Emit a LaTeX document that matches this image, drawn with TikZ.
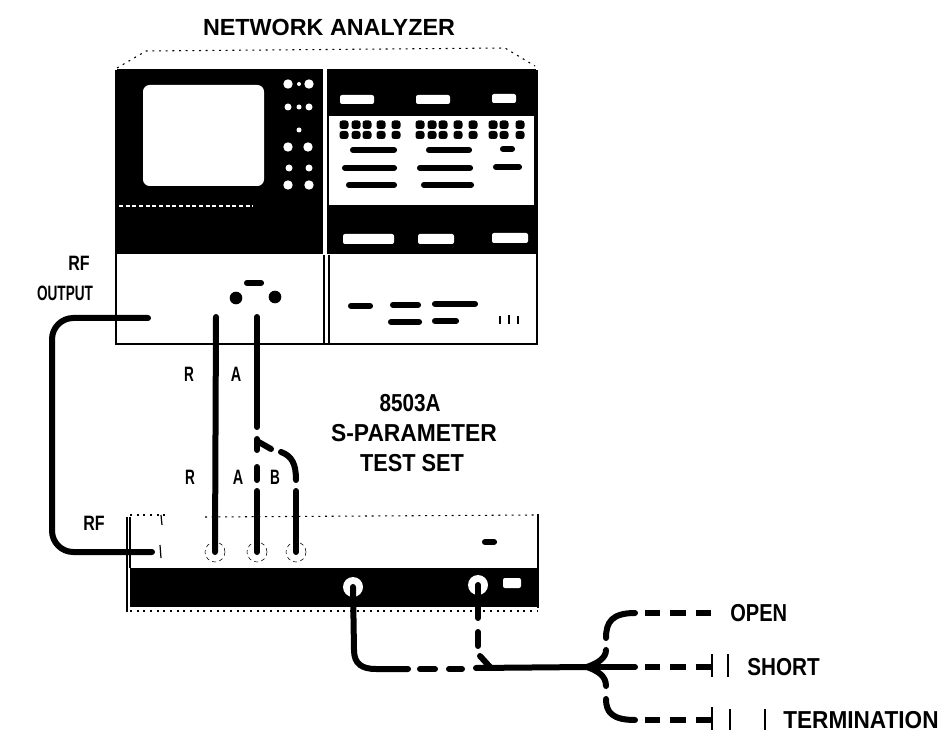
\documentclass[tikz,border=0pt]{standalone}
\usepackage{fontspec}
\setmainfont{Liberation Sans}
\usepackage{xcolor}
\usepackage{tikz}
\usetikzlibrary{positioning,calc}

\tikzset{
	cable/.style={line width=4.5pt, line cap=round, black},
	dashcable/.style={line width=4pt, dash pattern=on 11.5pt off 7.5pt, black},
	panel/.style={fill=black, draw=none},
	slot/.style={fill=white, rounded corners=1.5pt},
	key/.style={fill=black, rounded corners=2pt},
	bar/.style={line width=4.6pt, line cap=round, black},
	edgeline/.style={line width=0.9pt, black},
	faint/.style={line width=0.8pt, dash pattern=on 1.5pt off 3.5pt, black},
	label/.style={font=\bfseries\fontsize{12}{14}\selectfont, inner sep=0pt},
	biglabel/.style={font=\bfseries\fontsize{16}{18}\selectfont, inner sep=0pt},
	hole/.style={circle, fill=black, minimum size=#1, inner sep=0pt},
	socket/.style={circle, fill=white, minimum size=15pt, inner sep=0pt},
	minorport/.style={circle, draw, dash pattern=on 3pt off 2.5pt, minimum size=15pt, inner sep=0pt}
}

\begin{document}
\begin{tikzpicture}[x=0.75pt, y=-0.75pt]
	\useasboundingbox (0,0) rectangle (946,734);

	% network analyzer cabinet
	\draw[faint] (117,68) -- (146,51) -- (505,48) -- (535,66);
	\draw[edgeline] (116,70) -- (116,344) -- (537,344) -- (537,70);
	\draw[edgeline] (324,255) -- (324,344);
	\draw[edgeline] (329,255) -- (329,344);
	\fill[panel] (117,69) rectangle (323,254);
	\fill[panel] (327,69) rectangle (536,116);
	\fill[panel] (327,205) rectangle (536,254);
	\draw[edgeline] (328,116) -- (328,205);
	\draw[edgeline] (535,116) -- (535,205);
	\draw[white, line width=0.8pt, dash pattern=on 3pt off 2pt] (119,206) -- (253,206);

	% screen and round knobs
	\fill[white, rounded corners=5pt] (143,85) rectangle (264,186);
	\foreach \kx/\ky/\kr in {288/84/4.7, 299/84/2, 309/84/4.7, 288/107/3.5, 299/107/2.5, 309/107/3.5,
		299/130/2.5, 288/147/4.7, 308/147/4.7, 289/168/3.5, 309/168/3.5, 288/185/4.7, 309/185/4.7}
		\fill[white] (\kx,\ky) circle (\kr*0.75pt);

	% white windows in the dark strips
	\fill[slot] (340,95) rectangle (374,104);
	\fill[slot] (416,95) rectangle (450,104);
	\fill[slot] (492,94) rectangle (516,103);
	\fill[slot] (343,234) rectangle (394,244);
	\fill[slot] (418,234) rectangle (454,244);
	\fill[slot] (492,233) rectangle (528,243);

	% push buttons
	\foreach \bx in {344,356,367,381,396,420,432,443,458,473,493,504,520} {
		\fill[key] (\bx-4.5,120.5) rectangle (\bx+4.5,129);
		\fill[key] (\bx-4.5,131) rectangle (\bx+4.5,139);
	}

	% bars on the panels
	\foreach \xa/\xb/\yy in {353/394/150, 429/469/150, 503/512/149, 345/394/168, 420/470/168, 496/519/167,
		349/394/185, 424/471/185, 351/370/306, 393/418/305, 435/475/304, 391/419/322, 435/456/321, 247/261/283}
		\draw[bar] (\xa,\yy) -- (\xb,\yy);
	\draw[edgeline] (500,316) -- (500,324);
	\draw[edgeline, line width=1.4pt] (509,315) -- (509,324);
	\draw[edgeline] (518,316) -- (518,324);

	% input holes on the analyzer
	\node[hole=9.5pt] (holeR) at (236,298) {};
	\node[hole=9.5pt] (holeA) at (275,297) {};

	% test set
	\draw[edgeline] (127,517) -- (127,612);
	\draw[edgeline] (130,517) -- (130,568);
	\draw[edgeline] (161,515) -- (162,525);
	\draw[edgeline] (160,545) -- (161,558);
	\draw[faint] (130,515) -- (165,515);
	\draw[faint] (205,517) -- (535,515);
	\draw[edgeline] (538,514) -- (538,608);
	\fill[panel] (130,568) rectangle (537,607);
	\draw[faint] (130,611) -- (537,611);
	\draw[bar] (485,542) -- (494,542);
	\fill[slot] (503,578) rectangle (521,588);
	\node[socket] (portOne) at (353,587) {};
	\node[socket] (portTwo) at (478,585) {};

	% small ports on the test set
	\coordinate (portRF) at (152,552);
	\node[minorport] (portR) at (215,552) {};
	\node[minorport] (portA) at (257,552) {};
	\node[minorport] (portB) at (296,552) {};

	% cable ends
	\coordinate (outRF) at (148,318);
	\coordinate (outR) at (216,317);
	\coordinate (outA) at (257,317);
	\coordinate (split) at (587,667);
	\coordinate (openEnd) at (712,613);
	\coordinate (shortEnd) at (712,667);
	\coordinate (termEnd) at (712,720);

	% cables
	\draw[cable, rounded corners=16pt] (outRF) -- (52,318) -- (52,552) -- (portRF);
	\draw[cable] (outR) -- (portR.center);
	\draw[cable] (outA) -- (257,427);
	\draw[cable] (257,439) -- (257,450);
	\draw[cable] (257,467) -- (257,480);
	\draw[cable] (257,491) -- (portA.center);
	\draw[cable] (257,441) -- (271,449);
	\draw[cable] (281,452) .. controls (292,456) and (296,464) .. (296,480);
	\draw[cable] (296,491) -- (portB.center);

	\draw[cable] (portOne.center) -- (354,650) .. controls (354,664) and (362,669) .. (376,669) -- (408,669);
	\draw[cable] (420,669) -- (435,669);
	\draw[cable] (449,669) -- (462,669);
	\draw[cable] (portTwo.center) -- (478,618);
	\draw[cable] (478,632) -- (478,646);
	\draw[cable] (480,656) -- (490,667);
	\draw[cable] (476,668) -- (split);
	\draw[cable] (split) -- (635,667);
	\draw[dashcable] (645,667) -- (shortEnd);
	\draw[cable] (split) .. controls (598,663) and (606,658) .. (606,650);
	\draw[cable] (606,638) .. controls (606,622) and (612,613) .. (635,613);
	\draw[dashcable] (645,613) -- (openEnd);
	\draw[cable] (split) .. controls (598,671) and (606,676) .. (606,686);
	\draw[cable] (606,699) .. controls (606,712) and (612,720) .. (635,720);
	\draw[dashcable] (645,720) -- (termEnd);

	% short and termination symbols
	\draw[edgeline] (712,654) -- (712,677);
	\draw[edgeline] (728,654) -- (728,677);
	\draw[edgeline] (712,707) -- (712,730);
	\draw[edgeline] (730,709) -- (730,730);
	\draw[edgeline] (765,709) -- (765,730);

	% labels
	\node[label, font=\bfseries\fontsize{17.5}{20}\selectfont] (titleNA) at (329,27) {NETWORK ANALYZER};
	\node[label] (labRF) at (79,263) {\scalebox{1}[1.3]{RF}};
	\node[label] (labOut) at (65,293) {\scalebox{.85}[1.3]{OUTPUT}};
	\node[label] (labR) at (189,374) {\scalebox{.85}[1.3]{R}};
	\node[label] (labA) at (236,374) {\scalebox{.9}[1.3]{A}};
	\node[label] (labRb) at (190,477) {\scalebox{.85}[1.3]{R}};
	\node[label] (labAb) at (238,477) {\scalebox{.9}[1.3]{A}};
	\node[label] (labB) at (275,477) {\scalebox{.85}[1.3]{B}};
	\node[label] (labRFb) at (94,523) {\scalebox{1}[1.3]{RF}};
	\node[biglabel] (labSet) at (410,403) {\scalebox{.97}[1.15]{8503A}};
	\node[biglabel] (labSetb) at (414,433) {\scalebox{1.07}[1.15]{S-PARAMETER}};
	\node[biglabel] (labSetc) at (412,463) {\scalebox{1.02}[1.15]{TEST SET}};
	\node[biglabel, anchor=west] (labOpen) at (730,613) {\scalebox{.94}[1.15]{OPEN}};
	\node[biglabel, anchor=west] (labShort) at (747,667) {\scalebox{.97}[1.15]{SHORT}};
	\node[biglabel, anchor=west] (labTerm) at (783,720) {\scalebox{1.06}[1.15]{TERMINATION}};
\end{tikzpicture}
\end{document}
